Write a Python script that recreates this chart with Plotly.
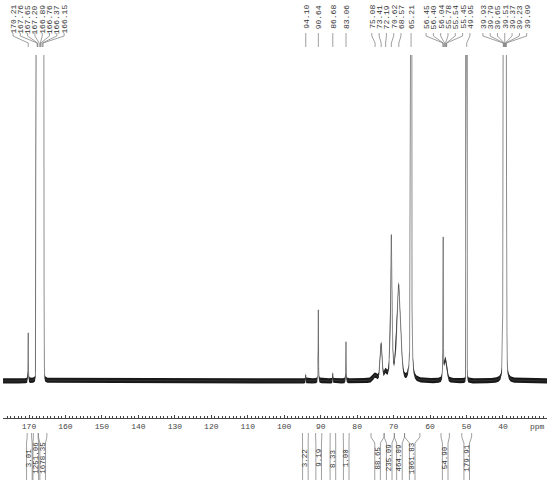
import numpy as np
import plotly.graph_objects as go

# peak picking labels (ppm), as printed above the spectrum
peak_labels = [170.21, 167.76, 167.65, 167.20, 166.89, 166.76, 166.37, 166.15,
               94.10, 90.64, 86.68, 83.06,
               75.08, 73.41, 72.19, 70.62, 68.57, 65.21,
               56.45, 56.40, 56.04, 55.78, 55.54, 55.45, 49.95,
               39.93, 39.79, 39.65, 39.51, 39.37, 39.23, 39.09]

# spectrum lines: position, height (baseline 0, top of frame 100),
# half width (ppm) and lorentzian fraction
line_ppm = [170.21, 167.76, 167.65, 167.20, 166.89, 166.76, 166.37, 166.15,
            94.10, 90.64, 86.68, 83.06,
            75.08, 73.41, 72.19, 70.62, 68.57, 65.21,
            56.45, 56.40, 56.04, 55.78, 55.54, 55.45, 49.95,
            39.93, 39.79, 39.65, 39.51, 39.37, 39.23, 39.09]
line_height = [14.7, 500, 500, 500, 500, 500, 500, 500,
               1.8, 21.8, 2.3, 12.0,
               1.5, 11.0, 2.0, 44.0, 29.0, 800,
               3.0, 40.0, 3.0, 2.5, 2.0, 2.0, 900,
               41, 122, 244, 284, 244, 122, 41]
line_hwhm = [0.04, 0.14, 0.14, 0.14, 0.14, 0.14, 0.14, 0.14,
             0.04, 0.04, 0.04, 0.04,
             0.6, 0.3, 0.4, 0.22, 0.6, 0.08,
             0.1, 0.04, 0.3, 0.3, 0.3, 0.3, 0.06,
             0.12, 0.12, 0.12, 0.12, 0.12, 0.12, 0.12]
line_eta = [1.0, 0.01, 0.01, 0.01, 0.01, 0.01, 0.01, 0.01,
            1.0, 1.0, 1.0, 1.0,
            0.5, 0.5, 0.5, 0.8, 0.3, 0.3,
            0.5, 1.0, 0.5, 0.5, 0.5, 0.5, 0.02,
            0.1, 0.1, 0.1, 0.1, 0.1, 0.1, 0.1]
noise_level = 0.8

# integrals: region limits (ppm) and values
integral_from = [170.5, 168.8, 167.4, 95.0, 91.4, 87.4, 83.8, 76.2, 72.6, 69.8, 67.0, 57.0, 51.3]
integral_to = [169.3, 167.5, 165.1, 93.4, 89.7, 85.9, 82.2, 72.6, 69.8, 67.0, 62.8, 54.7, 48.6]
integral_value = ["3.01", "1251.06", "1678.35", "3.22", "9.19", "8.33", "1.00",
                  "88.65", "235.09", "464.09", "1061.83", "54.90", "179.91"]

axis_ticks = [170, 160, 150, 140, 130, 120, 110, 100, 90, 80, 70, 60, 50, 40]
axis_unit = "ppm"

W, H = 550, 482
ML, MR, MT, MB = 3, 3, 55, 64
X_LEFT, X_RIGHT = 177.13, 27.93
PX_PER_PPM = (W - ML - MR) / (X_LEFT - X_RIGHT)
PLOT_H = H - MT - MB
MONO = "Liberation Mono"
GREY = "#444"


def to_px(ppm):
    return ML + (X_LEFT - np.asarray(ppm, dtype=float)) * PX_PER_PPM


def to_ppm(px):
    return X_LEFT - (np.asarray(px, dtype=float) - ML) / PX_PER_PPM


def py(ypx):
    # pixel row -> paper coordinate
    return (H - MB - ypx) / PLOT_H


def spread(centers, gap):
    # push labels apart so they don't overlap, keeping each group centred
    order = list(np.argsort(centers))
    groups = [[i] for i in order]

    def pos(g):
        m = np.mean([centers[i] for i in g])
        return [m + (k - (len(g) - 1) / 2) * gap for k in range(len(g))]

    changed = True
    while changed:
        changed = False
        for j in range(len(groups) - 1):
            if pos(groups[j + 1])[0] - pos(groups[j])[-1] < gap - 1e-9:
                groups[j] = groups[j] + groups[j + 1]
                del groups[j + 1]
                changed = True
                break
    out = np.empty(len(centers))
    for g in groups:
        for i, p in zip(g, pos(g)):
            out[i] = p
    return out


# sample grid: coarse everywhere, fine around each line
grid = [np.arange(X_RIGHT, X_LEFT, 0.01)]
for c in line_ppm:
    grid.append(np.arange(c - 1.5, c + 1.5, 0.002))
x = np.unique(np.concatenate(grid))
y = np.zeros_like(x)
for c, h, w, eta in zip(line_ppm, line_height, line_hwhm, line_eta):
    d = (x - c) / w
    y += h * (eta / (1 + d ** 2) + (1 - eta) * np.exp(-np.log(2) * d ** 2))

fig = go.Figure()
# noise band around the trace
fig.add_trace(go.Scatter(x=x, y=y - noise_level, mode="lines",
                         line=dict(color="black", width=0), hoverinfo="skip"))
fig.add_trace(go.Scatter(x=x, y=y + noise_level, mode="lines", fill="tonexty",
                         fillcolor="rgba(0,0,0,0.9)",
                         line=dict(color="black", width=0), hoverinfo="skip"))
fig.add_trace(go.Scatter(x=x, y=y, mode="lines",
                         line=dict(color="#444", width=0.6), hoverinfo="skip"))

shapes = []
annotations = []

# peak labels with leader lines
peak_px = to_px(peak_labels)
label_px = spread(list(peak_px), 7.3)
for p, lp, txt in zip(peak_px, label_px, peak_labels):
    lx, px_ = float(to_ppm(lp)), float(to_ppm(p))
    annotations.append(dict(x=lx, y=py(3), xref="x", yref="paper", text=f"{txt:.2f}",
                            textangle=-90, showarrow=False,
                            font=dict(family=MONO, size=8, color="#333"),
                            xanchor="center", yanchor="top"))
    shapes.append(dict(type="path", xref="x", yref="paper",
                       path=f"M {lx},{py(33)} L {lx},{py(36)} L {px_},{py(43)} L {px_},{py(47)}",
                       line=dict(color="#777", width=0.7)))

# integral brackets
reg_a = to_px(integral_from)
reg_b = to_px(integral_to)
col_c = spread(list((reg_a + reg_b) / 2), 6.0)
half = 2.8
for a, b, c, txt in zip(reg_a, reg_b, col_c, integral_value):
    for edge, col in ((a, c - half), (b, c + half)):
        e, k = float(to_ppm(edge)), float(to_ppm(col))
        shapes.append(dict(type="path", xref="x", yref="paper",
                           path=f"M {e},{py(433)} L {e},{py(437)} L {k},{py(443)} L {k},{py(480)}",
                           line=dict(color="#777", width=0.7)))
    annotations.append(dict(x=float(to_ppm(c)), y=py(458), xref="x", yref="paper", text=txt,
                            textangle=-90, showarrow=False,
                            font=dict(family=MONO, size=7.5, color="#333"),
                            xanchor="center", yanchor="middle"))

# unit label at the right end of the axis
annotations.append(dict(x=float(to_ppm(537)), y=py(426), xref="x", yref="paper",
                        text=axis_unit, showarrow=False,
                        font=dict(family=MONO, size=8, color=GREY),
                        xanchor="center", yanchor="middle"))

fig.update_layout(
    width=W, height=H,
    margin=dict(l=ML, r=MR, t=MT, b=MB, autoexpand=False),
    paper_bgcolor="white", plot_bgcolor="white",
    showlegend=False,
    shapes=shapes, annotations=annotations,
    xaxis=dict(range=[X_LEFT, X_RIGHT], showgrid=False, zeroline=False, automargin=False,
               showline=True, linecolor=GREY, linewidth=1,
               ticks="inside", ticklen=3, tickcolor=GREY,
               tickmode="array", tickvals=axis_ticks,
               tickfont=dict(family=MONO, size=8, color=GREY),
               minor=dict(ticks="inside", ticklen=2, tickcolor=GREY,
                          tickmode="linear", tick0=0, dtick=1)),
    yaxis=dict(visible=False, range=[-11.35, 100], fixedrange=True, automargin=False),
)

# the page body has a default 8px margin; drop it so the figure fills the window
fig.write_html("out.html", config={"displayModeBar": False},
               post_script="document.body.style.margin='0';")
